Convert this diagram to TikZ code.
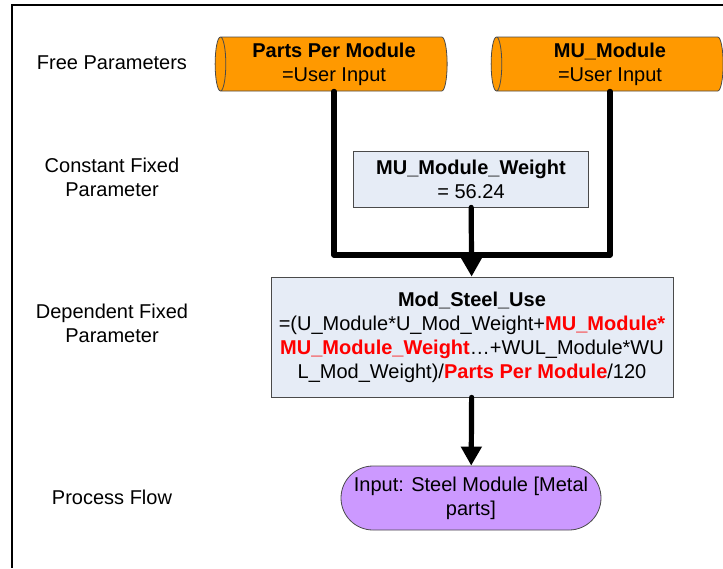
\documentclass[tikz,border=0pt]{standalone}
\usepackage{fontspec}
\setmainfont{Liberation Sans}
\usetikzlibrary{shapes.geometric,shapes.misc,arrows.meta}

\definecolor{paramorange}{HTML}{FF9900}
\definecolor{fixedblue}{HTML}{E6ECF6}
\definecolor{flowpurple}{HTML}{CC99FF}
\definecolor{edgegray}{HTML}{4A4A4A}
\definecolor{hotred}{HTML}{FF0000}

\begin{document}
\begin{tikzpicture}
			[x=0.5pt,y=-0.5pt,
			every node/.style={font=\fontsize{10}{12}\selectfont,align=center,inner sep=0pt},
			freeparam/.style={cylinder,shape border rotate=180,aspect=0.25,draw=edgegray,fill=paramorange,minimum height=116pt,minimum width=27pt},
			fixedparam/.style={rectangle,draw=edgegray,fill=fixedblue},
			flowstep/.style={rounded rectangle,draw=edgegray,fill=flowpurple,minimum width=130pt,minimum height=32pt},
			wire/.style={line width=2.6pt,line join=round,line cap=round},
			tip/.style={-{Triangle[width=10pt,length=9.5pt]}}]
			\useasboundingbox (0,0) rectangle (723,568);
			\draw[line width=1.1pt] (723,5) -- (12,5) -- (12,568);
			
			% row labels
			\node (lfree)  at (112,63)  {Free Parameters};
			\node (lconst) at (112,177) {Constant Fixed\\Parameter};
			\node (ldep)   at (112,323) {Dependent Fixed\\Parameter};
			\node (lflow)  at (112,497) {Process Flow};
			
			% diagram
			\node[freeparam] (ppm) at (334,64) {\textbf{Parts Per Module}\\=User Input};
			\node[freeparam] (mum) at (610,64) {\textbf{MU\_Module}\\=User Input};
			\node[fixedparam,minimum width=117.5pt,minimum height=28pt] (muw) at (471,179) {\textbf{MU\_Module\_Weight}\\= 56.24};
			\node[fixedparam,minimum width=201pt,minimum height=60pt] (steel) at (472,337)
				{\textbf{Mod\_Steel\_Use}\\
				=(U\_Module*U\_Mod\_Weight+\textcolor{hotred}{\textbf{MU\_Module*}}\\
				\textcolor{hotred}{\textbf{MU\_Module\_Weight}}…+WUL\_Module*WU\\
				L\_Mod\_Weight)/\textcolor{hotred}{\textbf{Parts Per Module}}/120};
			\node[flowstep] (metal) at (471,498) {Input: Steel Module [Metal\\parts]};
			
			\coordinate (join) at (472,255);
			\foreach \from in {ppm,mum}
			\draw[wire] (\from.south) |- (join);
			\draw[wire,tip] (muw) -- (steel);
			\draw[wire,tip] (steel) -- (metal);
			\end{tikzpicture}
\end{document}
